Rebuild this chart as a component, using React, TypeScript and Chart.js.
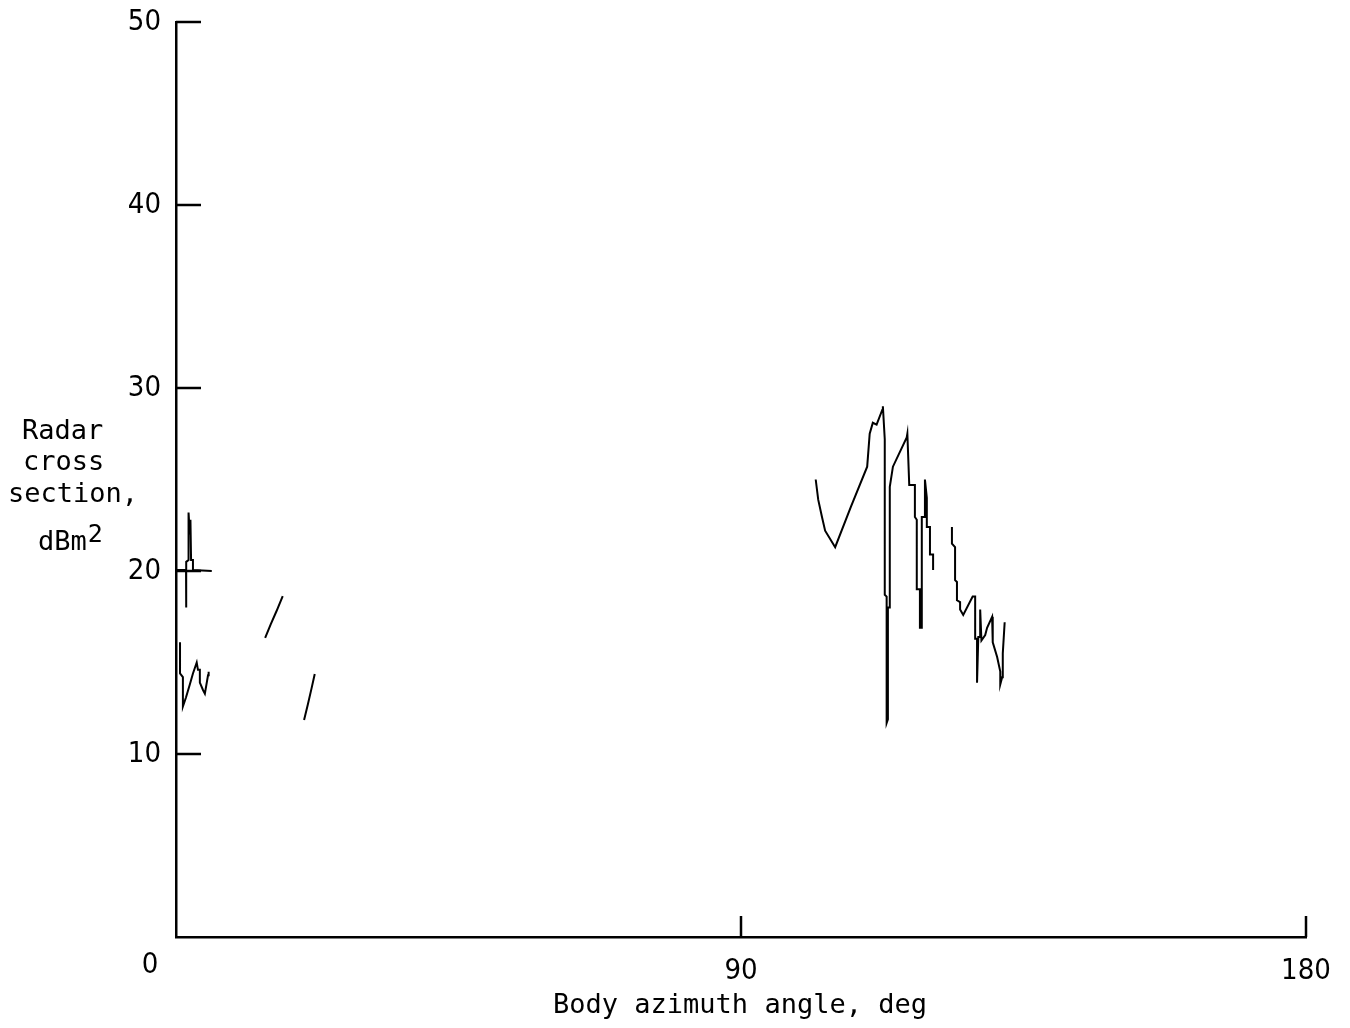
import React, { useEffect, useRef } from "react";
import { Chart, registerables } from "chart.js";

Chart.register(...registerables);

// Radar cross section (dBm^2) versus body azimuth angle (deg), drawn as separate trace segments.
const segUpperAngle = [0.0, 1.6, 1.6, 1.65, 2.0, 2.0, 2.2, 2.3, 2.4, 2.7, 2.7, 5.7];
const segUpperRcs = [20.05, 20.05, 18.0, 20.5, 20.6, 23.2, 22.0, 22.8, 20.6, 20.6, 20.05, 20.0];

const segLowerAngle = [0.64, 0.64, 1.1, 1.1, 1.6, 2.2, 2.7, 3.3, 3.5, 3.8, 3.8, 4.3, 4.6, 5.1, 5.2];
const segLowerRcs = [16.1, 14.4, 14.2, 12.6, 13.1, 13.8, 14.4, 15.0, 14.6, 14.6, 13.9, 13.5, 13.3, 14.3, 14.5];

const segRiseAAngle = [14.2, 15.1, 16.0, 17.0];
const segRiseARcs = [16.34, 17.1, 17.8, 18.63];

const segRiseBAngle = [20.4, 21.0, 21.6, 22.1];
const segRiseBRcs = [11.86, 12.7, 13.6, 14.37];

const segPeakAngle = [
  101.9, 102.3, 102.9, 103.4, 105.0, 107.5, 110.1, 110.5, 111.0, 111.6, 112.5, 112.6,
  112.9, 112.9, 113.2, 113.2, 113.4, 113.4, 113.7, 113.7, 114.2, 116.4, 116.5, 116.8,
  117.7, 117.7, 118.0, 118.0, 118.5, 118.5, 118.8, 118.8, 119.3, 119.3, 119.6, 119.6,
  120.1, 120.1, 120.6, 120.6,
];
const segPeakRcs = [
  25.0, 23.9, 22.95, 22.2, 21.3, 23.5, 25.7, 27.5, 28.1, 28.0, 28.8, 29.0,
  27.2, 18.7, 18.6, 11.7, 11.9, 18.0, 18.0, 24.6, 25.7, 27.3, 27.5, 24.7,
  24.7, 22.95, 22.8, 19.0, 19.0, 16.9, 16.9, 22.95, 22.95, 25.0, 24.0, 22.4,
  22.4, 20.9, 20.9, 20.05,
];

const segTailAngle = [
  123.6, 123.6, 124.1, 124.1, 124.4, 124.4, 124.9, 124.9, 125.4, 126.9, 127.3, 127.3,
  127.6, 127.6, 127.8, 128.1, 128.1, 128.3, 128.9, 129.2, 130.0, 130.1, 130.8, 131.3,
  131.3, 131.6, 131.7, 132.0,
];
const segTailRcs = [
  22.4, 21.5, 21.3, 19.5, 19.4, 18.4, 18.3, 17.9, 17.6, 18.6, 18.6, 16.3,
  16.3, 13.9, 16.4, 16.4, 17.9, 16.2, 16.5, 16.9, 17.5, 16.1, 15.3, 14.5,
  13.8, 14.2, 15.5, 17.2,
];

const segments = [
  [segUpperAngle, segUpperRcs],
  [segLowerAngle, segLowerRcs],
  [segRiseAAngle, segRiseARcs],
  [segRiseBAngle, segRiseBRcs],
  [segPeakAngle, segPeakRcs],
  [segTailAngle, segTailRcs],
];

const yTickValues = [10, 20, 30, 40, 50];
const xTickValues = [90, 180];

const yTitleLines = ["Radar", "cross", "section,", "dBm"];
const xTitle = "Body azimuth angle, deg";

const MONO = "'DejaVu Sans Mono', 'Liberation Mono', monospace";
const NUM = "'Liberation Sans Narrow', 'DejaVu Sans Condensed', 'Liberation Sans', sans-serif";

const decorPlugin = {
  id: "decor",
  afterDraw(chart: any) {
    const ctx = chart.ctx;
    const xs = chart.scales.x;
    const ys = chart.scales.y;
    const area = chart.chartArea;
    ctx.save();
    ctx.strokeStyle = "#000";
    ctx.lineWidth = 2.5;
    // inward tick marks
    for (const v of yTickValues) {
      const py = ys.getPixelForValue(v);
      ctx.beginPath();
      ctx.moveTo(area.left, py);
      ctx.lineTo(area.left + 25, py);
      ctx.stroke();
    }
    for (const v of xTickValues) {
      const px = xs.getPixelForValue(v);
      ctx.beginPath();
      ctx.moveTo(px, area.bottom);
      ctx.lineTo(px, area.bottom - 21);
      ctx.stroke();
    }
    ctx.fillStyle = "#000";
    // origin label
    ctx.font = `29px ${NUM}`;
    ctx.textAlign = "center";
    ctx.textBaseline = "middle";
    ctx.fillText("0", xs.getPixelForValue(0) - 26, area.bottom + 28);
    // y-axis title, stacked and left-set like typed lines
    ctx.textBaseline = "alphabetic";
    ctx.textAlign = "left";
    ctx.font = `27px ${MONO}`;
    const lineX = [22, 23, 8, 38];
    const lineY = [439, 470, 502, 550];
    yTitleLines.forEach((t, i) => {
      ctx.fillText(t, lineX[i], lineY[i]);
    });
    const w = ctx.measureText(yTitleLines[3]).width;
    ctx.font = `25px ${MONO}`;
    ctx.fillText("2", lineX[3] + w + 1, 542);
    // x-axis title
    ctx.font = `27px ${MONO}`;
    ctx.textAlign = "center";
    ctx.fillText(xTitle, 740, 1013);
    ctx.restore();
  },
};

export default function App() {
  const canvasRef = useRef<HTMLCanvasElement | null>(null);

  useEffect(() => {
    const canvas = canvasRef.current;
    if (!canvas) return;
    const chart = new Chart(canvas, {
      type: "line",
      data: {
        datasets: segments.map(([ang, rcs]) => ({
          data: ang.map((a, i) => ({ x: a, y: rcs[i] })),
          borderColor: "#000",
          borderWidth: 2,
          pointRadius: 0,
          tension: 0,
          fill: false,
        })),
      },
      options: {
        animation: false,
        responsive: false,
        maintainAspectRatio: false,
        layout: { padding: { top: 22, right: 44, left: 0, bottom: 0 } },
        plugins: { legend: { display: false }, tooltip: { enabled: false } },
        scales: {
          x: {
            type: "linear",
            min: 0,
            max: 180,
            afterFit: (s: any) => {
              s.height = 91;
              s.paddingLeft = 0;
              s.paddingRight = 0;
            },
            grid: { display: false, drawTicks: false },
            border: { display: true, color: "#000", width: 2.5 },
            ticks: {
              stepSize: 90,
              padding: 17,
              color: "#000",
              font: { size: 29, family: NUM },
              maxRotation: 0,
              callback: (v: any) => (v === 0 ? "" : String(v)),
            },
          },
          y: {
            type: "linear",
            min: 0,
            max: 50,
            afterFit: (s: any) => {
              s.width = 176;
              s.paddingTop = 0;
              s.paddingBottom = 0;
            },
            grid: { display: false, drawTicks: false },
            border: { display: true, color: "#000", width: 2.5 },
            ticks: {
              stepSize: 10,
              padding: 15,
              color: "#000",
              font: { size: 29, family: NUM },
              callback: (v: any) => (v === 0 ? "" : String(v)),
            },
          },
        },
      },
      plugins: [decorPlugin],
    });
    return () => chart.destroy();
  }, []);

  return (
    <div style={{ position: "fixed", left: 0, top: 0, width: 1350, height: 1028, background: "#fff" }}>
      <canvas ref={canvasRef} width={1350} height={1028} style={{ width: 1350, height: 1028 }} />
    </div>
  );
}
